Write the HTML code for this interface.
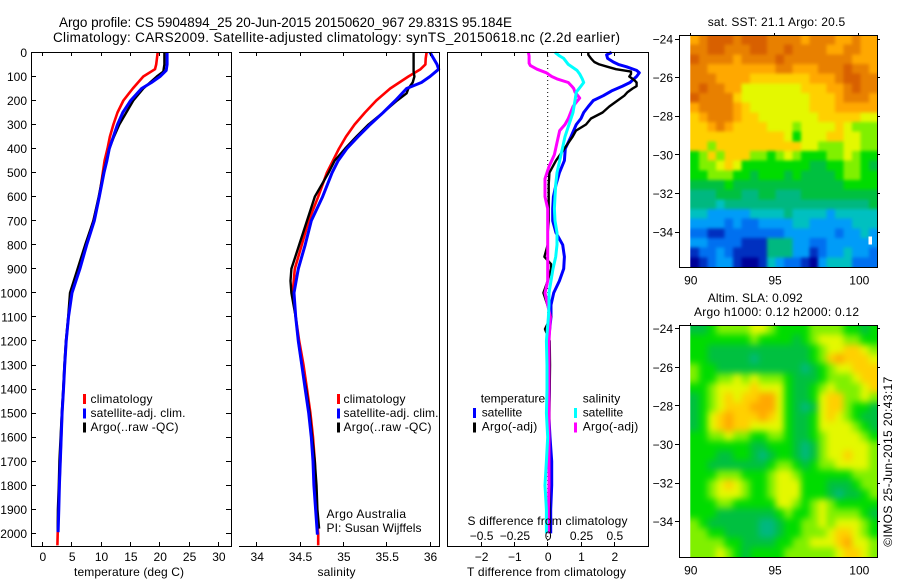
<!DOCTYPE html>
<html>
<head>
<meta charset="utf-8">
<title>Argo profile</title>
<style>
html,body{margin:0;padding:0;background:#fff;}
svg{display:block;}
text{font-family:"Liberation Sans",sans-serif;font-size:12px;fill:#000;}
.title{font-size:13.5px;}
</style>
</head>
<body>
<svg id="chart" xmlns="http://www.w3.org/2000/svg" width="900" height="580" viewBox="0 0 900 580">
  <defs id="defs">
    <filter id="blur-sst" filterUnits="userSpaceOnUse" x="660" y="10" width="240" height="280" color-interpolation-filters="sRGB"><feGaussianBlur stdDeviation="1.5"/></filter>
    <filter id="blur-sla" filterUnits="userSpaceOnUse" x="660" y="300" width="240" height="280" color-interpolation-filters="sRGB"><feGaussianBlur stdDeviation="3.5"/></filter>
    <clipPath id="clip-sst"><rect x="690.3" y="35" width="187.4" height="232"/></clipPath>
    <clipPath id="clip-sla"><rect x="690.3" y="325" width="187.4" height="232"/></clipPath>
  </defs>
  <rect x="0" y="0" width="900" height="580" fill="#fff"/>
  <g id="maps"></g>
  <g id="lines"></g>
  <g id="axes"></g>

  <text class="title" x="59" y="27" textLength="453">Argo profile: CS 5904894_25 20-Jun-2015 20150620_967 29.831S 95.184E</text>
  <text class="title" x="53" y="42" textLength="567">Climatology: CARS2009. Satellite-adjusted climatology: synTS_20150618.nc (2.2d earlier)</text>

  <text x="74" y="576" textLength="110">temperature (deg C)</text>
  <text x="317.5" y="576" textLength="38">salinity</text>
  <text x="467" y="576" textLength="159">T difference from climatology</text>
  <text x="467.5" y="525" textLength="160">S difference from climatology</text>

  <g>
    <rect x="83" y="394" width="3" height="10" fill="#f00"/>
    <rect x="83" y="408.5" width="3" height="10" fill="#00f"/>
    <rect x="83" y="422.5" width="3" height="10" fill="#000"/>
    <text x="90.5" y="403" textLength="62">climatology</text>
    <text x="90.5" y="417" textLength="95">satellite-adj. clim.</text>
    <text x="90.5" y="431" textLength="88">Argo(..raw -QC)</text>
  </g>
  <g>
    <rect x="337" y="394" width="3" height="10" fill="#f00"/>
    <rect x="337" y="408.5" width="3" height="10" fill="#00f"/>
    <rect x="337" y="422.5" width="3" height="10" fill="#000"/>
    <text x="343.5" y="403" textLength="62">climatology</text>
    <text x="343.5" y="417" textLength="95">satellite-adj. clim.</text>
    <text x="343.5" y="431" textLength="88">Argo(..raw -QC)</text>
  </g>
  <text x="326.5" y="518" textLength="79.5">Argo Australia</text>
  <text x="326.5" y="532" textLength="95">PI: Susan Wijffels</text>

  <g>
    <text x="480.7" y="402.5" textLength="64.5">temperature</text>
    <text x="582.7" y="402.5" textLength="37.5">salinity</text>
    <rect x="473" y="408" width="3" height="10" fill="#00f"/>
    <rect x="473" y="422.5" width="3" height="10" fill="#000"/>
    <rect x="574" y="408" width="3" height="10" fill="#0ff"/>
    <rect x="574" y="422.5" width="3" height="10" fill="#f0f"/>
    <text x="481.7" y="416.5" textLength="40.5">satellite</text>
    <text x="481.7" y="430.5" textLength="55.5">Argo(-adj)</text>
    <text x="582.7" y="416.5" textLength="40.5">satellite</text>
    <text x="582.7" y="430.5" textLength="55.5">Argo(-adj)</text>
  </g>

  <text x="707.7" y="26" textLength="137.5">sat. SST: 21.1 Argo: 20.5</text>
  <text x="707.7" y="302" textLength="95">Altim. SLA: 0.092</text>
  <text x="694" y="316" textLength="165">Argo h1000: 0.12 h2000: 0.12</text>
  <text transform="translate(892 546.7) rotate(-90)" x="0" y="0" textLength="170">©IMOS 25-Jun-2015 20:43:17</text>
</svg>
<script>
// ---------- axis tick data ----------
const depthTicks = [0,100,200,300,400,500,600,700,800,900,1000,1100,1200,1300,1400,1500,1600,1700,1800,1900,2000];
const tempTicks = [0,5,10,15,20,25,30];
const salTicks = [34,34.5,35,35.5,36];
const tDiffTicks = [-2,-1,0,1,2];
const sDiffTicks = [-0.5,-0.25,0,0.25,0.5];
const lonTicks = [90,95,100];
const latTicks = [-24,-26,-28,-30,-32,-34];

// ---------- temperature profiles ----------
const tempClimDepth = [0,50,70,100,150,200,250,300,350,400,450,500,600,700,800,900,1000,1100,1200,1300,1400,1500,1600,1700,1800,1900,2000,2050];
const tempClim = [19.65,19.4,19.2,17.2,15.4,13.8,12.8,12.1,11.5,11.1,10.6,10.3,9.7,8.7,7.4,6.1,4.8,4.45,4.05,3.8,3.6,3.35,3.2,3.05,2.9,2.75,2.6,2.56];
const tempArgoDepth = [0,50,80,100,150,200,250,300,350,400,450,500,600,700,800,900,1000,1100,1200,1300,1400,1500,1600,1700,1800,1900,1990];
const tempArgo = [20.8,20.8,20.6,19.5,17.2,15.5,14.3,13.1,12.2,11.4,10.9,10.4,9.6,8.7,7.3,6,4.7,4.4,4.0,3.75,3.55,3.3,3.1,2.9,2.8,2.65,2.6];
const tempSatDepth = [0,50,75,100,125,150,200,250,300,350,400,450,500,600,700,800,900,1000,1100,1200,1300,1400,1500,1600,1700,1800,1900,1995];
const tempSat = [21.25,21.25,21.1,20.05,18.6,16.9,15.05,13.7,12.8,12.1,11.4,11,10.5,9.7,8.85,7.55,6.4,5.05,4.45,4.05,3.8,3.6,3.35,3.2,3.05,2.9,2.8,2.68];

// ---------- salinity profiles ----------
const salClimDepth = [0,25,50,70,100,150,200,250,300,350,400,450,500,600,700,800,900,1000,1100,1200,1300,1400,1500,1600,1700,1800,1900,2000,2050];
const salClim = [35.96,35.95,35.946,35.89,35.75,35.54,35.38,35.25,35.13,35.03,34.95,34.88,34.81,34.71,34.6,34.52,34.44,34.415,34.45,34.49,34.54,34.58,34.62,34.65,34.67,34.68,34.69,34.71,34.71];
const salArgoDepth = [0,50,80,100,125,150,170,200,250,300,350,400,450,500,600,700,800,900,950,1000,1100,1200,1300,1400,1500,1600,1700,1800,1900,1980];
const salArgo = [35.81,35.81,35.81,35.82,35.8,35.75,35.73,35.62,35.46,35.29,35.15,35.02,34.9,34.83,34.67,34.58,34.49,34.4,34.39,34.4,34.45,34.48,34.52,34.57,34.61,34.64,34.67,34.69,34.7,34.72];
const salSatDepth = [0,25,50,70,100,125,150,200,250,300,350,400,450,500,600,700,800,900,1000,1100,1200,1300,1400,1500,1600,1700,1800,1900,2005];
const salSat = [36,36.04,36.08,36.1,36,35.9,35.73,35.6,35.46,35.31,35.17,35.04,34.94,34.87,34.76,34.63,34.56,34.48,34.43,34.45,34.48,34.52,34.56,34.6,34.63,34.65,34.66,34.68,34.7];

// ---------- difference profiles ----------
const tDiffSatDepth = [0,10,25,40,50,60,75,85,100,115,125,140,160,180,200,225,250,275,300,350,400,450,500,550,600,650,700,750,800,850,900,950,1000,1050,1100,1200,1300,1400,1500,1600,1700,1800,1900,2000];
const tDiffSat = [1.92,1.77,1.8,1.97,2.12,2.37,2.67,2.75,2.67,2.55,2.47,2.25,1.92,1.67,1.37,1.22,1.08,1,0.86,0.7,0.53,0.5,0.35,0.25,0.17,0.15,0.15,0.25,0.45,0.5,0.48,0.35,0.18,0.1,0.1,0.02,0.04,0.05,0.03,0.07,0.12,0.12,0.09,0.09];
const tDiffArgoDepth = [0,10,25,40,50,60,70,80,90,100,115,125,140,150,165,180,200,225,250,275,300,325,350,400,450,500,550,600,650,700,750,800,850,880,900,950,1000,1050,1100,1150,1200,1300,1400,1500,1600,1700,1800,1900,2000];
const tDiffArgo = [1.22,1.22,1.3,1.4,1.55,1.8,2.05,2.5,2.5,2.45,2.6,2.67,2.67,2.55,2.4,2.3,2.1,1.85,1.65,1.3,1.15,0.85,0.75,0.5,0.25,0.05,0.03,0.03,0.03,0.03,0,0,-0.1,0.1,0.1,0,-0.13,-0.01,0.1,-0.08,0.06,0.07,0.06,0.05,0.05,0.05,0.05,0.05,0.05];
const sDiffSatDepth = [0,15,25,50,75,90,110,125,140,165,200,250,300,350,400,450,500,550,600,650,700,750,800,850,900,950,1000,1050,1100,1200,1300,1400,1500,1600,1700,1800,1900,2000];
const sDiffSat = [0.055,0.09,0.12,0.155,0.22,0.24,0.26,0.27,0.25,0.215,0.205,0.19,0.16,0.13,0.11,0.09,0.07,0.06,0.055,0.05,0.055,0.07,0.07,0.06,0.04,0.025,0.01,0.01,0.005,-0.01,-0.005,-0.005,-0.01,0,-0.01,-0.02,-0.01,-0.01];
const sDiffArgoDepth = [0,15,30,45,55,70,85,100,110,125,140,150,165,190,200,225,275,300,325,375,425,475,525,600,650,700,750,800,850,900,950,1000,1050,1100,1200,1300,1400,1500,1600,1700,1800,1900,2000];
const sDiffArgo = [-0.145,-0.14,-0.14,-0.14,-0.13,-0.08,-0.01,0.03,0.07,0.155,0.18,0.195,0.205,0.24,0.225,0.19,0.155,0.13,0.09,0.07,0.05,0.01,-0.02,-0.02,0,0,0,0,0,0,0,-0.02,0,0.02,0.01,0.01,0.01,0.01,0.01,0.01,0.01,0.005,0.005];

// ---------- map grids (colour-scale level per cell, north to south, west to east) ----------
const sstGrid = [
[11,12,13,13,13,12,13,13,13,12,12,12,12,11,12,12,12,11,11,12,11,11],
[12,12,13,13,12,12,12,13,13,12,12,13,12,12,12,12,11,11,12,12,11,11],
[13,12,12,12,12,11,12,12,12,12,13,12,12,12,12,12,12,12,12,11,11,11],
[12,12,11,11,11,11,11,11,11,11,12,12,11,11,11,12,12,12,13,12,12,11],
[12,12,12,11,11,11,11,10,10,10,10,10,10,10,11,11,11,12,13,13,12,12],
[12,13,12,12,11,11,9,9,9,9,9,9,9,10,10,10,11,11,12,13,12,12],
[13,12,12,12,12,10,9,9,9,9,9,9,9,9,10,10,10,11,12,12,12,11],
[11,12,12,12,12,11,10,9,9,9,9,9,9,9,10,10,10,11,11,11,11,11],
[10,11,12,12,12,11,10,10,9,9,9,9,9,9,9,10,10,10,10,10,9,9],
[10,10,11,12,11,10,10,10,10,9,9,9,8,9,9,9,9,10,9,8,8,8],
[10,10,10,10,10,10,10,10,10,10,10,9,7,9,9,9,10,10,9,9,8,8],
[10,10,8,10,10,10,10,10,10,10,10,10,10,9,9,8,8,8,9,9,8,8],
[7,8,10,8,10,10,10,8,8,7,8,9,8,7,7,7,8,8,9,8,7,7],
[7,8,8,9,10,9,7,7,7,7,7,7,7,7,6,6,7,7,8,8,7,6],
[7,7,8,8,8,7,7,6,7,7,7,6,7,6,6,6,6,7,8,8,7,7],
[6,6,6,6,7,6,6,6,6,6,6,6,6,6,6,6,6,6,7,7,7,7],
[5,5,5,6,6,6,5,5,6,6,5,5,5,6,6,6,6,6,6,6,6,6],
[5,5,5,4,5,5,5,5,5,5,5,5,5,5,5,5,5,5,5,5,5,6],
[4,4,3,3,3,3,3,4,4,4,4,5,4,4,4,4,3,4,4,4,4,4],
[3,3,3,3,2,3,2,2,3,3,3,3,4,4,3,3,3,3,3,4,4,4],
[2,2,1,1,2,2,2,2,2,2,2,3,3,3,3,3,3,2,3,3,4,3],
[3,3,2,2,2,2,1,1,1,5,5,5,3,3,2,2,3,3,3,3,3,3],
[1,2,2,3,2,1,1,1,1,5,5,5,3,3,1,2,3,3,4,3,3,2],
[0,1,2,3,3,1,0,0,1,4,3,2,2,1,0,3,4,4,4,2,2,2]
];
const slaGrid = [
[6,6,7,8,8,8,8,9,9,8,7,7,7,7,8,8,8,8,7,7,6,7],
[7,7,7,7,7,7,7,8,7,7,7,7,6,7,8,9,9,9,8,8,7,7],
[7,7,6,6,6,6,6,6,6,6,6,6,6,6,7,8,9,9,10,10,9,8],
[7,7,6,6,6,6,6,5,6,6,6,6,6,6,7,8,10,11,10,10,10,9],
[8,7,7,6,6,6,6,6,6,6,6,6,6,5,6,7,8,9,9,10,10,10],
[8,7,7,8,8,9,8,9,8,8,8,7,6,6,6,7,8,8,8,9,10,10],
[7,7,8,9,9,9,9,10,9,9,9,7,6,6,7,8,9,8,8,8,9,10],
[6,7,8,9,10,9,10,10,11,11,9,7,6,6,7,9,10,10,8,8,9,8],
[6,7,8,9,10,10,10,11,11,11,9,7,6,5,6,9,10,10,8,7,7,6],
[6,7,9,10,11,10,10,10,11,10,9,7,6,6,7,9,10,9,8,7,6,6],
[6,7,9,10,11,10,10,9,9,9,9,7,6,6,7,9,9,9,9,8,7,6],
[7,7,8,8,9,8,8,7,7,8,8,7,6,6,7,8,9,9,9,9,8,7],
[7,7,7,7,7,7,7,6,6,7,7,7,6,5,6,8,9,9,9,9,9,8],
[7,7,7,6,6,7,7,6,5,6,7,7,6,5,6,8,9,9,10,9,9,8],
[7,7,6,6,6,6,6,6,6,7,8,8,7,6,7,8,8,9,9,9,9,8],
[7,7,7,8,8,8,7,7,7,8,9,9,8,7,7,7,7,7,7,8,8,8],
[7,7,8,9,10,9,8,7,7,8,9,9,9,7,7,7,6,6,6,7,8,8],
[7,7,8,9,9,9,8,7,7,8,9,9,9,7,7,7,6,5,6,6,7,8],
[7,7,7,8,8,7,7,7,7,7,9,9,8,7,8,9,8,7,7,7,7,7],
[7,7,7,6,6,6,6,6,6,6,7,8,7,7,8,9,8,8,8,8,7,6],
[8,7,6,6,6,6,6,6,5,5,6,7,7,8,8,9,8,9,9,9,8,7],
[8,8,7,7,6,6,6,6,5,5,6,7,7,8,8,8,9,10,10,9,8,7],
[8,8,8,8,7,7,6,6,6,6,7,7,8,8,9,9,9,10,11,9,9,8],
[8,8,8,9,8,7,6,7,7,7,7,8,8,8,8,8,8,9,10,10,9,8]
];

// ---------- drawing ----------
const NS = 'http://www.w3.org/2000/svg';
const palette = ['#000098','#0030c0','#0070f0','#009cf8','#00c0c0','#00b880','#00c040','#00dc00','#80f000','#e4f800','#ffd000','#ffa800','#e88000','#d86000'];
const linesG = document.getElementById('lines');
const axesG = document.getElementById('axes');
const mapsG = document.getElementById('maps');

const depthY = d => 52.4 + 0.2405 * d;
const tempX = v => 42.4 + 5.867 * v;
const salX = v => 256.7 + 86.67 * (v - 34);
const tDiffX = v => 547.7 + 33.3 * v;
const sDiffX = v => 547.7 + 133.2 * v;

function hLine(x1, x2, y) {
  const el = document.createElementNS(NS, 'rect');
  el.setAttribute('x', Math.round(x1));
  el.setAttribute('y', Math.floor(y));
  el.setAttribute('width', Math.max(1, Math.round(x2 - x1)));
  el.setAttribute('height', 1);
  el.setAttribute('fill', '#000');
  axesG.appendChild(el);
  return el;
}
function vLine(x, y1, y2) {
  const el = document.createElementNS(NS, 'rect');
  el.setAttribute('x', Math.floor(x));
  el.setAttribute('y', Math.round(y1));
  el.setAttribute('width', 1);
  el.setAttribute('height', Math.max(1, Math.round(y2 - y1)));
  el.setAttribute('fill', '#000');
  axesG.appendChild(el);
  return el;
}
function label(str, x, y, anchor) {
  const el = document.createElementNS(NS, 'text');
  el.setAttribute('x', x);
  el.setAttribute('y', y);
  el.setAttribute('text-anchor', anchor);
  el.textContent = str;
  axesG.appendChild(el);
  return el;
}
function profile(depths, values, xFn, colour, width) {
  const el = document.createElementNS(NS, 'polyline');
  el.setAttribute('points', depths.map((d, i) => xFn(values[i]).toFixed(1) + ',' + depthY(d).toFixed(1)).join(' '));
  el.setAttribute('fill', 'none');
  el.setAttribute('stroke', colour);
  el.setAttribute('stroke-width', width);
  el.setAttribute('stroke-linejoin', 'round');
  linesG.appendChild(el);
  return el;
}

// temperature panel
let pl;
pl = profile(tempClimDepth, tempClim, tempX, '#f00', 2.6);


pl = profile(tempArgoDepth, tempArgo, tempX, '#000', 2.4);


pl = profile(tempSatDepth, tempSat, tempX, '#00f', 3);


// salinity panel
pl = profile(salClimDepth, salClim, salX, '#f00', 2.6);


pl = profile(salArgoDepth, salArgo, salX, '#000', 2.4);


pl = profile(salSatDepth, salSat, salX, '#00f', 3);


// difference panel
const zeroLine = document.createElementNS(NS, 'line');
zeroLine.setAttribute('x1', tDiffX(0));
zeroLine.setAttribute('x2', tDiffX(0));
zeroLine.setAttribute('y1', 52);
zeroLine.setAttribute('y2', 546);
zeroLine.setAttribute('stroke', '#000');
zeroLine.setAttribute('stroke-width', 1);
zeroLine.setAttribute('stroke-dasharray', '1 3');


linesG.appendChild(zeroLine);
pl = profile(tDiffSatDepth, tDiffSat, tDiffX, '#00f', 3);


pl = profile(tDiffArgoDepth, tDiffArgo, tDiffX, '#000', 2.4);


pl = profile(sDiffArgoDepth, sDiffArgo, sDiffX, '#f0f', 3);


pl = profile(sDiffSatDepth, sDiffSat, sDiffX, '#0ff', 3);



// axis frames
const TOP = 52, BOT = 546;
[[31, 231], [239, 439], [447, 648]].forEach(function (p, idx) {
  let e;
  e = hLine(p[0], p[1] + 1, TOP);
  
  
  e = hLine(p[0], p[1] + 1, BOT);
  
  
  e = vLine(p[1], TOP, BOT + 1);
  
  
  if (idx !== 1) {
    e = vLine(p[0], TOP, BOT + 1);
    
    
  }
});
depthTicks.forEach(function (d) {
  const y = depthY(d);
  let e = hLine(31, 36, y);
  
  
  e = hLine(226, 231, y);
  
  
  e = label(String(d), 27, y + 4.5, 'end');
  
  
});
function xTicks(values, xFn, baseline) {
  values.forEach(function (v) {
    const x = xFn(v);
    let e = vLine(x, TOP, TOP + 4);
    
    
    e = vLine(x, BOT - 4, BOT);
    
    
    e = label(String(v).replace('-', '\u2212'), x + 0.5, baseline, 'middle');
    
    
  });
}
xTicks(tempTicks, tempX, 561);
xTicks(salTicks, salX, 561);
xTicks(tDiffTicks, tDiffX, 561);
sDiffTicks.forEach(function (v) {
  const e = label(String(v).replace('-', '\u2212'), sDiffX(v) + 0.5, 540, 'middle');
  
  
});

// maps
const lonX = v => 690.3 + 16.85 * (v - 90);
const mapW = 877.7 - 690.3;
function drawMap(grid, top, bottom, lat24Y, xLabelY, cellName, clipId, filterId) {
  const nr = grid.length, nc = grid[0].length;
  const cw = mapW / nc, ch = (bottom - top) / nr;
  const BLEED = 14;
  const clipG = document.createElementNS(NS, 'g');
  clipG.setAttribute('clip-path', 'url(#' + clipId + ')');
  
  
  const cellsG = document.createElementNS(NS, 'g');
  cellsG.setAttribute('filter', 'url(#' + filterId + ')');
  
  
  clipG.appendChild(cellsG);
  mapsG.appendChild(clipG);
  grid.forEach(function (row, r) {
    row.forEach(function (v, c) {
      const cell = document.createElementNS(NS, 'rect');
      const x0 = 690.3 + c * cw - (c === 0 ? BLEED : 0);
      const y0 = top + r * ch - (r === 0 ? BLEED : 0);
      const x1 = 690.3 + (c + 1) * cw + (c === nc - 1 ? BLEED : 0.5);
      const y1 = top + (r + 1) * ch + (r === nr - 1 ? BLEED : 0.5);
      cell.setAttribute('x', x0.toFixed(2));
      cell.setAttribute('y', y0.toFixed(2));
      cell.setAttribute('width', (x1 - x0).toFixed(2));
      cell.setAttribute('height', (y1 - y0).toFixed(2));
      cell.setAttribute('fill', palette[Math.max(0, Math.min(palette.length - 1, Math.round(v)))]);
      cell.setAttribute('shape-rendering', 'crispEdges');
      
      
      cellsG.appendChild(cell);
    });
  });
  let e;
  e = hLine(679, 878, top);
  
  
  e = hLine(679, 878, bottom);
  
  
  e = vLine(679, top, bottom + 1);
  
  
  e = vLine(877, top, bottom + 1);
  
  
  latTicks.forEach(function (lat) {
    const y = lat24Y + (-24 - lat) * 19.3;
    e = hLine(675, 679, y);
    
    
    e = hLine(878, 880, y);
    
    
    e = label(String(lat).replace('-', '\u2212'), 673, y + 4.5, 'end');
    
    
  });
  lonTicks.forEach(function (lon) {
    e = vLine(lonX(lon), top - 2, top);
    
    
    e = label(String(lon), lonX(lon) + 0.5, xLabelY, 'middle');
    
    
  });
}
drawMap(sstGrid, 35, 267, 39, 284.5, 'sst-cell', 'clip-sst', 'blur-sst');
drawMap(slaGrid, 325, 557, 328.7, 574.5, 'sla-cell', 'clip-sla', 'blur-sla');

const missing = document.createElementNS(NS, 'rect');
missing.setAttribute('x', 868.5);
missing.setAttribute('y', 236.5);
missing.setAttribute('width', 3.5);
missing.setAttribute('height', 8);
missing.setAttribute('fill', '#fff');


mapsG.appendChild(missing);
</script>
</body>
</html>
